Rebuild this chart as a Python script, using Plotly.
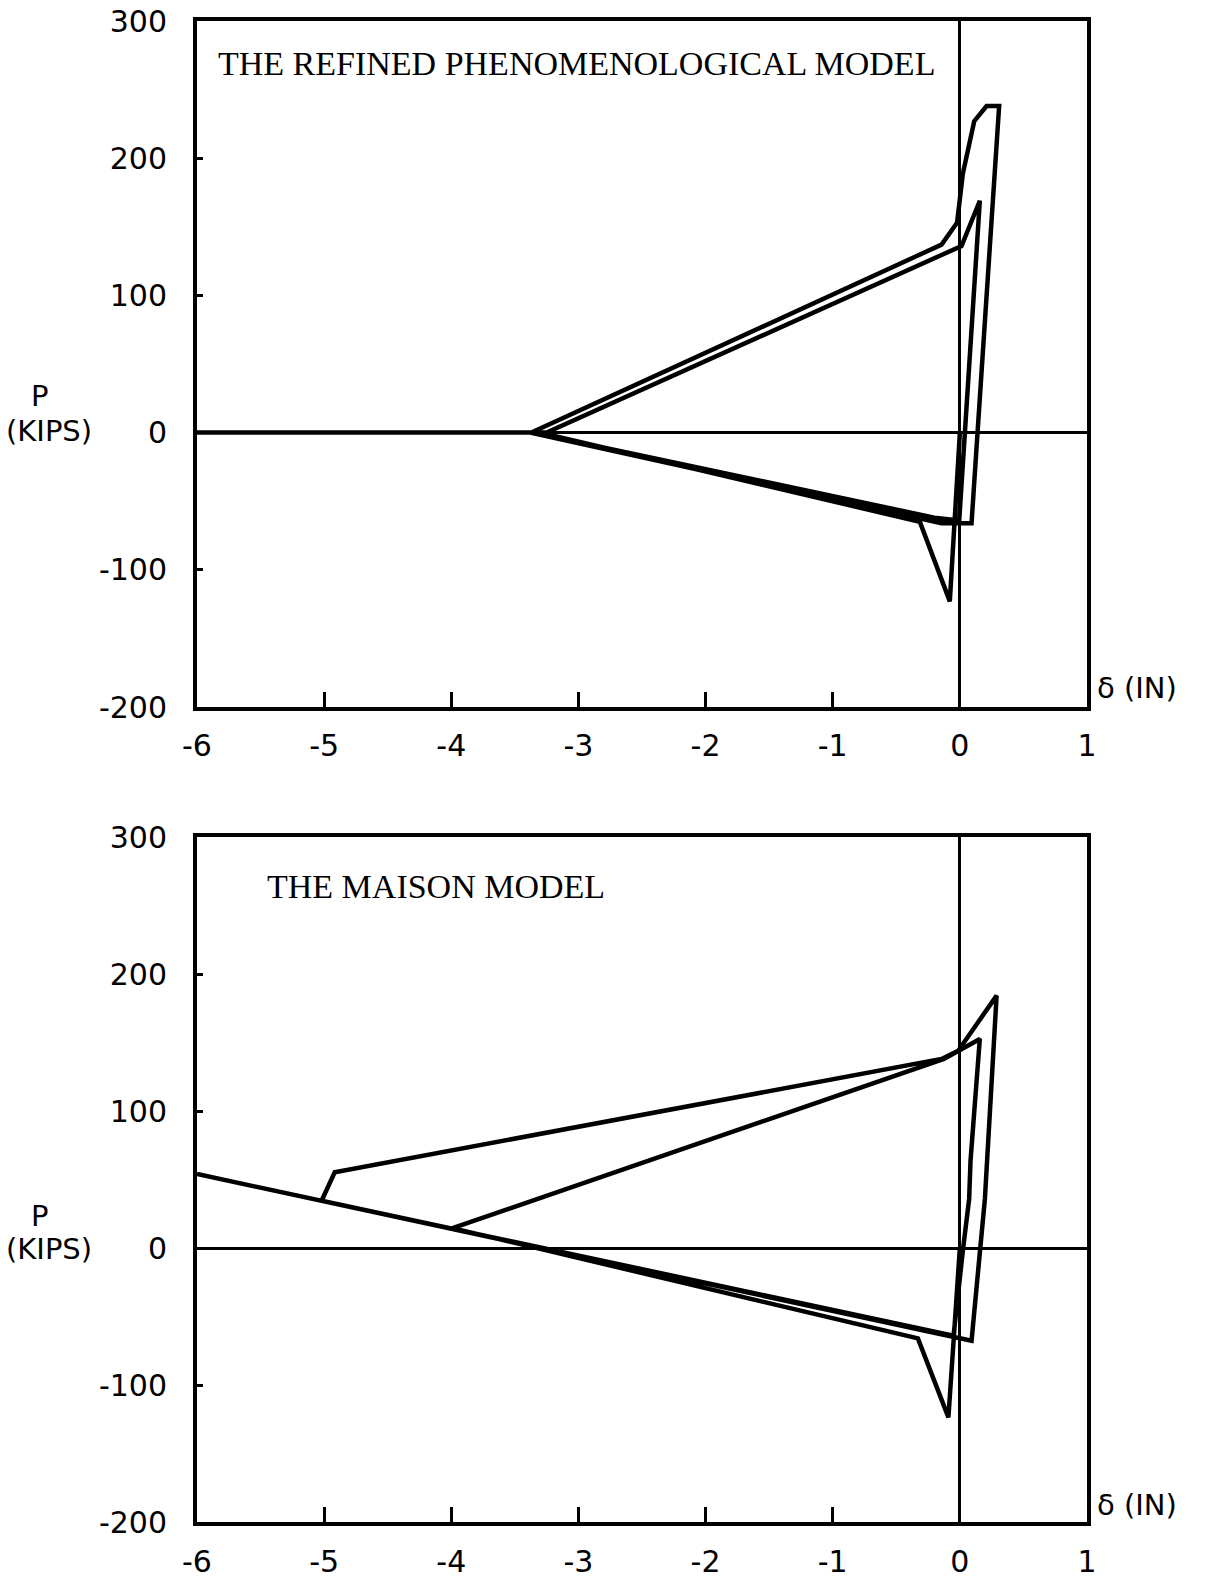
import plotly.graph_objects as go

# ---------------- data ----------------
# Top panel: THE REFINED PHENOMENOLOGICAL MODEL  (delta in inches, P in kips)
top_delta = [0.0, -0.079, -0.315, -3.30, -3.25, 0.013, 0.157, 0.039, -0.005, -0.2,
             -3.36, -6.0, -3.37, -0.144, -0.022, 0.024, 0.113, 0.21, 0.309, 0.092,
             -0.144, -3.38, -6.0]
top_P = [0, -123, -65, 0, 0, 136, 169, 2, -64, -62,
         0, 0, 0, 137, 153, 189, 227, 238, 238, -66,
         -66, 0, 0]

# Bottom panel: THE MAISON MODEL
bot_delta = [0.0, -0.09, -0.33, -3.99, -0.125, -0.013, 0.157, 0.084, 0.073, 0.026,
             -0.013, -0.05, -5.02, -4.917, -0.144, -0.013, 0.289, 0.215, 0.197, 0.092,
             -0.092, -6.0]
bot_P = [0, -123.6, -66, 14.5, 138, 144, 152.6, 64, 35.8, 0,
         -35, -64, 34.5, 55.3, 138, 144, 184.2, 65, 35.8, -67.7,
         -64, 54]

x_ticks = [-6, -5, -4, -3, -2, -1, 0, 1]
x_ticktext = ["-6", "-5", "-4", "-3", "-2", "-1", "0", "1"]
y_ticks = [-200, -100, 0, 100, 200, 300]
y_ticktext = ["-200", "-100", "0", "100", "200", "300"]

titles = ["THE REFINED PHENOMENOLOGICAL MODEL", "THE MAISON MODEL"]

# ---------------- figure ----------------
W, H = 1212, 1579
fig = go.Figure()

fig.add_trace(go.Scatter(x=top_delta, y=top_P, mode="lines",
                         line=dict(color="black", width=4.5), xaxis="x", yaxis="y",
                         showlegend=False))
fig.add_trace(go.Scatter(x=bot_delta, y=bot_P, mode="lines",
                         line=dict(color="black", width=4.5), xaxis="x2", yaxis="y2",
                         showlegend=False))

tick_font = dict(family="DejaVu Sans", size=30, color="black")

def xaxis(anchor, standoff):
    return dict(domain=[197 / W, 1087 / W], range=[-6, 1], anchor=anchor,
                showline=True, linewidth=4, linecolor="black", mirror=True,
                showgrid=False, zeroline=True, zerolinewidth=3, zerolinecolor="black",
                tickmode="array", tickvals=x_ticks, ticktext=x_ticktext,
                ticks="inside", ticklen=15, tickwidth=3, tickcolor="black",
                tickfont=tick_font, ticklabelstandoff=standoff, automargin=False)

def yaxis(anchor, top_px, bottom_px):
    return dict(domain=[1 - bottom_px / H, 1 - top_px / H], range=[-200, 300], anchor=anchor,
                showline=True, linewidth=4, linecolor="black", mirror=True,
                showgrid=False, zeroline=True, zerolinewidth=3, zerolinecolor="black",
                tickmode="array", tickvals=y_ticks, ticktext=y_ticktext,
                ticks="inside", ticklen=6, tickwidth=3, tickcolor="black",
                tickfont=tick_font, ticklabelstandoff=20, automargin=False)

fig.update_layout(
    width=W, height=H,
    margin=dict(l=0, r=0, t=0, b=0),
    paper_bgcolor="white", plot_bgcolor="white",
    xaxis=xaxis("y", 9), yaxis=yaxis("x", 21, 707),
    xaxis2=xaxis("y2", 10), yaxis2=yaxis("x2", 837, 1522),
    showlegend=False,
)

label_font = dict(family="DejaVu Sans", size=29, color="black")
title_font = dict(family="Liberation Serif", size=34, color="black")

def px(xp, yp):
    return xp / W, 1 - yp / H

annots = []
for (title, tx, ty, p_y, k_y, d_y) in [(titles[0], 216, 64, 396, 431, 688),
                                       (titles[1], 265, 886, 1216, 1249, 1505)]:
    x0, y0 = px(tx, ty)
    annots.append(dict(text=title, x=x0, y=y0, xref="paper", yref="paper",
                       xanchor="left", yanchor="middle", showarrow=False, font=title_font))
    x0, y0 = px(40, p_y)
    annots.append(dict(text="P", x=x0, y=y0, xref="paper", yref="paper",
                       xanchor="center", yanchor="middle", showarrow=False, font=label_font))
    x0, y0 = px(49, k_y)
    annots.append(dict(text="(KIPS)", x=x0, y=y0, xref="paper", yref="paper",
                       xanchor="center", yanchor="middle", showarrow=False, font=label_font))
    x0, y0 = px(1095, d_y)
    annots.append(dict(text="δ (IN)", x=x0, y=y0, xref="paper", yref="paper",
                       xanchor="left", yanchor="middle", showarrow=False, font=label_font))
fig.update_layout(annotations=annots)

fig.write_html("out.html", config={"displayModeBar": False},
               post_script="document.body.style.margin='0px';")
